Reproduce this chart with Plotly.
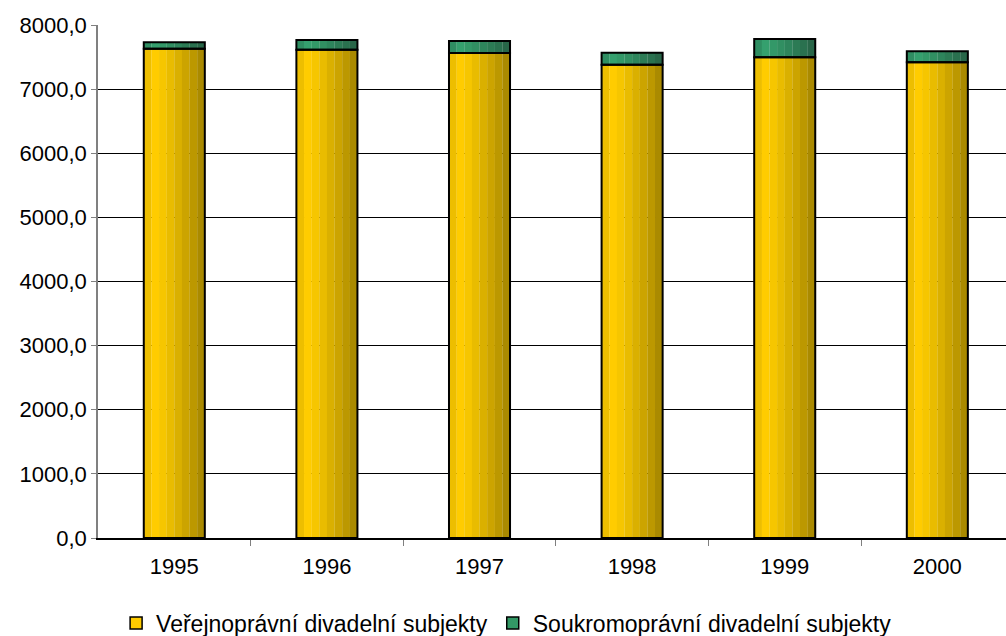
import plotly.graph_objects as go

years = ["1995", "1996", "1997", "1998", "1999", "2000"]
public = [7630, 7615, 7565, 7382, 7497, 7419]
private = [100, 150, 187, 187, 285, 171]

name_pub = "Veřejnoprávní divadelní subjekty"
name_priv = "Soukromoprávní divadelní subjekty"

gold_stripes = ["#EDBE00", "#FFCC00", "#F6C600", "#E9BC00", "#DAB000", "#CCA400", "#BC9800", "#AA8A00"]
green_stripes = ["#2F8E62", "#35A06E", "#339868", "#318F62", "#2E855C", "#2C7B55", "#2A714F", "#286648"]

x = list(range(len(years)))
bar_w = 0.4
n = len(gold_stripes)
sw = bar_w / n

fig = go.Figure()
for i in range(n):
    off = -bar_w / 2 + i * sw
    fig.add_trace(go.Bar(x=x, y=public, width=sw * 1.02, offset=off,
                         marker=dict(color=gold_stripes[i], line=dict(width=0)),
                         showlegend=False, hoverinfo="skip"))
    fig.add_trace(go.Bar(x=x, y=private, base=public, width=sw * 1.02, offset=off,
                         marker=dict(color=green_stripes[i], line=dict(width=0)),
                         showlegend=False, hoverinfo="skip"))

# outlines
fig.add_trace(go.Bar(x=x, y=public, width=bar_w, offset=-bar_w / 2,
                     marker=dict(color="rgba(0,0,0,0)", line=dict(color="black", width=2)),
                     showlegend=False, name=name_pub))
fig.add_trace(go.Bar(x=x, y=private, base=public, width=bar_w, offset=-bar_w / 2,
                     marker=dict(color="rgba(0,0,0,0)", line=dict(color="black", width=2)),
                     showlegend=False, name=name_priv))

# legend entries
fig.add_trace(go.Bar(x=[None], y=[None], name=name_pub,
                     marker=dict(color="#FFCC00", line=dict(color="black", width=1.5))))
fig.add_trace(go.Bar(x=[None], y=[None], name=name_priv,
                     marker=dict(color="#339966", line=dict(color="black", width=1.5))))

fig.update_layout(
    width=1006, height=636,
    barmode="overlay",
    paper_bgcolor="white", plot_bgcolor="white",
    margin=dict(l=98, r=0, t=25, b=98, autoexpand=False),
    separators=", ",
    font=dict(family="Liberation Sans, Arial, sans-serif", size=22, color="black"),
    legend=dict(orientation="h", x=0.45, xanchor="center", y=-0.166, yanchor="middle",
                font=dict(size=23), itemwidth=30, tracegroupgap=0),
    xaxis=dict(
        range=[-0.5, 5.45], tickvals=x, ticktext=years, ticks="",
        showline=True, linecolor="black", linewidth=1.5, showgrid=False, zeroline=False,
        minor=dict(tickvals=[0.5, 1.5, 2.5, 3.5, 4.5], ticks="outside", ticklen=6,
                   tickcolor="#808080", showgrid=False),
        tickfont=dict(size=22), ticklabelstandoff=8,
    ),
    yaxis=dict(
        range=[0, 8000], dtick=1000, tickformat=".1f",
        showline=True, linecolor="#808080", linewidth=1.5,
        ticks="outside", ticklen=5, tickcolor="#808080",
        showgrid=True, gridcolor="black", gridwidth=1, zeroline=False,
        tickfont=dict(size=22),
    ),
)

fig.write_html("out.html", config={"displayModeBar": False},
               post_script="document.body.style.margin='0';")
